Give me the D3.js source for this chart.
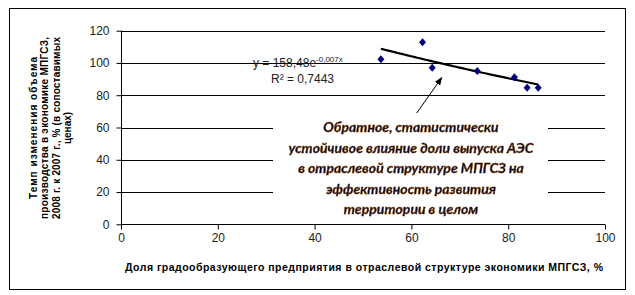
<!DOCTYPE html>
<html><head><meta charset="utf-8">
<script src="https://cdn.jsdelivr.net/npm/d3@7"></script>
<style>body{margin:0;background:#fff}svg{display:block}</style>
</head><body>
<svg id="c" width="635" height="295"></svg>
<script>
// ---- data ----
const shareX = [53.7, 62.3, 64.3, 73.6, 81.3, 83.9, 86.2];
const growthY = [102.3, 112.8, 97.1, 95.0, 91.1, 84.7, 84.7];
const xTicks = [0, 20, 40, 60, 80, 100];
const yTicks = [0, 20, 40, 60, 80, 100, 120];
const trendA = 158.48, trendB = -0.007, trendR2 = "0,7443";
const xTitle = "Доля градообразующего предприятия в отраслевой структуре экономики МПГСЗ, %";
const yTitleLines = ["Темп изменения объема", "производства  в экономике МПГСЗ,", "2008 г. к 2007  г., % (в сопоставимых", "ценах)"];
const noteLines = ["Обратное, статистически", "устойчивое влияние доли выпуска АЭС", "в отраслевой структуре МПГСЗ на", "эффективность развития", "территории в целом"];

const svg = d3.select("#c");
const x = d3.scaleLinear().domain([0, 100]).range([121, 605]);
const y = d3.scaleLinear().domain([0, 120]).range([224.3, 30.7]);

const defs = svg.append("defs");
const f = defs.append("filter").attr("id","glow").attr("x","-10%").attr("y","-30%").attr("width","120%").attr("height","160%");
f.append("feMorphology").attr("in","SourceAlpha").attr("operator","dilate").attr("radius",0.3).attr("result","d");
f.append("feGaussianBlur").attr("in","d").attr("stdDeviation",0.45).attr("result","b");
f.append("feFlood").attr("flood-color","#eea43a").attr("result","c");
f.append("feComposite").attr("in","c").attr("in2","b").attr("operator","in").attr("result","g");
const m = f.append("feMerge"); m.append("feMergeNode").attr("in","g"); m.append("feMergeNode").attr("in","SourceGraphic");
const mk = defs.append("marker").attr("id","ah").attr("viewBox","0 0 10 10").attr("refX",9).attr("refY",5)
  .attr("markerWidth",8).attr("markerHeight",8).attr("orient","auto").attr("markerUnits","userSpaceOnUse");
mk.append("path").attr("d","M0,1 L10,5 L0,9 Z").attr("fill","#000");

// outer frame
svg.append("rect").attr("x",9.5).attr("y",8.5).attr("width",616).attr("height",281).attr("fill","#fff").attr("stroke","#000");

// gridlines
svg.append("g").selectAll("line").data(yTicks.filter(d=>d>0)).join("line")
  .attr("x1",x(0)).attr("x2",x(100)).attr("y1",d=>Math.round(y(d))+0.5).attr("y2",d=>Math.round(y(d))+0.5)
  .attr("stroke","#000").attr("stroke-width",1);

// axes
const font = "'Liberation Sans', Arial, sans-serif";
const gx = svg.append("g").attr("transform",`translate(0,${Math.round(y(0))+0.5})`)
  .call(d3.axisBottom(x).tickValues(xTicks).tickSize(5).tickPadding(4));
const gy = svg.append("g").attr("transform",`translate(${Math.round(x(0))+0.5},0)`)
  .call(d3.axisLeft(y).tickValues(yTicks).tickSize(5).tickPadding(7));
[gx, gy].forEach(g=>{
  g.selectAll("text").attr("font-family",font).attr("font-size",12).attr("fill","#222");
  g.selectAll("line,path").attr("stroke","#000");
});
gx.select(".domain").attr("d",`M${x(0)},0H${x(100)}`);
gy.select(".domain").attr("d",`M0,${y(0)}V${y(120)}`);

// annotation box (hides gridlines)
svg.append("rect").attr("x",273).attr("y",114).attr("width",275).attr("height",106).attr("fill","#fff");

// trendline
const tx = d3.range(d3.min(shareX), d3.max(shareX)+0.01, 0.5);
svg.append("path").datum(tx).attr("fill","none").attr("stroke","#000").attr("stroke-width",2.2)
  .attr("d", d3.line().x(d=>x(d)).y(d=>y(trendA*Math.exp(trendB*d))));

// points
svg.append("g").selectAll("path").data(shareX.map((v,i)=>[v,growthY[i]])).join("path")
  .attr("transform",d=>`translate(${x(d[0])},${y(d[1])})`)
  .attr("d","M0,-4L3.5,0L0,4L-3.5,0Z").attr("fill","#000080");

// equation label
const eq = svg.append("text").attr("x",253).attr("y",67).attr("font-family",font).attr("font-size",12).attr("fill","#222");
eq.append("tspan").text("y = " + trendA.toFixed(2).replace(".",",") + "e");
eq.append("tspan").attr("dy",-5).attr("font-size",8).text(String(trendB).replace(".",",") + "x");
svg.append("text").attr("x",271).attr("y",83).attr("font-family",font).attr("font-size",12).attr("fill","#222")
  .text("R² = " + trendR2);

// arrow
svg.append("line").attr("x1",416.7).attr("y1",113).attr("x2",441.7).attr("y2",77.7)
  .attr("stroke","#000").attr("stroke-width",1).attr("marker-end","url(#ah)");

// note text
svg.append("g").attr("filter","url(#glow)").selectAll("text").data(noteLines).join("text")
  .attr("x",411).attr("y",(d,i)=>132+i*20.5).attr("text-anchor","middle")
  .attr("font-family","Lato, 'Open Sans', sans-serif").attr("font-weight","bold").attr("font-style","italic")
  .attr("font-size",14).attr("fill","#0a0a30").attr("stroke","#0a0a30").attr("stroke-width",0.4).text(d=>d);

// axis titles
svg.append("text").attr("x",364).attr("y",271).attr("text-anchor","middle").attr("font-family",font)
  .attr("font-weight","bold").attr("font-size",10.5).attr("fill","#000")
  .attr("textLength",478).attr("lengthAdjust","spacing").text(xTitle);
const yLens = [142, 182, 182, null];
const yBase = [37, 48.3, 59.6, 71];
yTitleLines.forEach((l,i)=>{
  const t = svg.append("text").attr("transform",`translate(${yBase[i]},128) rotate(-90)`).attr("text-anchor","middle")
    .attr("font-family",font).attr("font-weight","bold").attr("font-size",10).attr("fill","#000").text(l);
  if (yLens[i]) t.attr("textLength",yLens[i]).attr("lengthAdjust","spacing");
});
</script>
</body></html>
